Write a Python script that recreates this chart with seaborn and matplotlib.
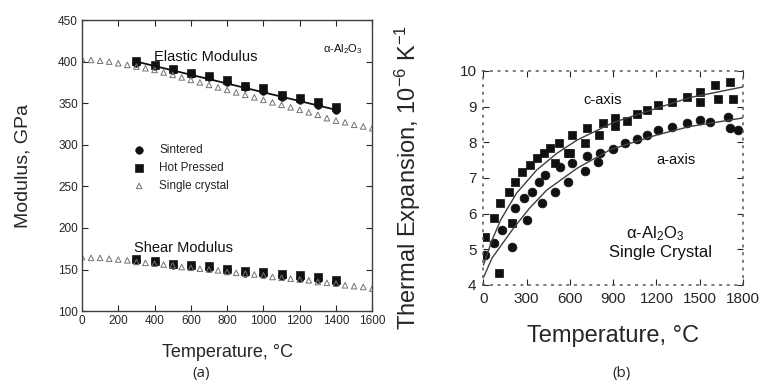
import matplotlib
matplotlib.use("Agg")
import matplotlib.pyplot as plt
import numpy as np
import pandas as pd
import seaborn as sns

# ---- (a) modulus vs temperature ----
poly_T = [300, 400, 500, 600, 700, 800, 900, 1000, 1100, 1200, 1300, 1400]
elastic_sintered = [398, 395, 390, 385, 381, 375, 369, 365, 358, 354, 348, 342]
elastic_hot = [401, 396, 391, 386, 383, 378, 371, 368, 360, 356, 352, 345]
shear_sintered = [161, 159, 156, 154, 152, 149, 146, 144, 142, 140, 138, 135]
shear_hot = [163, 160, 157, 155, 154, 151, 148, 147, 145, 143, 141, 137]
elastic_fit_T = [300, 1400]
elastic_fit = [400, 342]

crystal_T = list(range(0, 1601, 50))
elastic_crystal = [403, 402, 401, 400, 398, 396, 394, 392, 390, 387, 384, 381, 378,
                   375, 372, 369, 366, 363, 360, 357, 354, 351, 348, 345, 342, 339,
                   336, 332, 329, 327, 324, 322, 320]
shear_crystal = [165, 164, 164, 163, 162, 161, 159, 158, 157, 156, 155, 153, 152,
                 151, 150, 149, 147, 146, 145, 144, 143, 141, 140, 139, 138, 137,
                 135, 134, 133, 131, 130, 129, 127]

# ---- (b) thermal expansion ----
c_T = [14, 71, 106, 118, 175, 199, 221, 268, 325, 371, 417, 463, 498, 521, 590, 602,
       614, 705, 720, 800, 830, 913, 913, 997, 1066, 1135, 1211, 1308, 1412, 1502,
       1502, 1606, 1627, 1710, 1730]
c_axis = [5.35, 5.87, 4.33, 6.29, 6.61, 5.73, 6.89, 7.17, 7.36, 7.55, 7.69, 7.83, 7.41,
          7.97, 7.70, 7.69, 8.20, 7.97, 8.40, 8.20, 8.53, 8.44, 8.67, 8.60, 8.80, 8.90,
          9.04, 9.13, 9.27, 9.40, 9.13, 9.60, 9.20, 9.70, 9.20]
a_T = [14, 71, 129, 199, 221, 279, 302, 337, 383, 406, 429, 498, 533, 590, 614, 706,
       720, 797, 810, 900, 983, 1066, 1135, 1211, 1308, 1412, 1502, 1571, 1695, 1709,
       1765]
a_axis = [4.84, 5.17, 5.54, 5.07, 6.15, 6.43, 5.82, 6.61, 6.89, 6.29, 7.08, 6.61, 7.31,
          6.89, 7.41, 7.20, 7.60, 7.45, 7.70, 7.82, 7.97, 8.10, 8.20, 8.34, 8.43, 8.53,
          8.62, 8.58, 8.70, 8.40, 8.35]
c_fit_T = [0, 60, 120, 230, 370, 510, 650, 900, 1200, 1430, 1800]
c_fit = [4.55, 5.25, 5.82, 6.57, 7.22, 7.69, 8.06, 8.55, 8.95, 9.25, 9.55]
a_fit_T = [0, 60, 200, 320, 440, 650, 880, 1200, 1430, 1800]
a_fit = [4.20, 4.75, 5.54, 6.15, 6.66, 7.27, 7.79, 8.20, 8.44, 8.68]

sns.set_theme(style="ticks")
plt.rcParams["font.family"] = ["Liberation Sans", "DejaVu Sans"]
plt.rcParams["mathtext.default"] = "regular"
plt.rcParams["xtick.direction"] = "in"
plt.rcParams["ytick.direction"] = "in"

fig = plt.figure(figsize=(7.66, 3.85), dpi=100)
ink = "#111111"

# (a)
ax = fig.add_axes([0.107, 0.192, 0.379, 0.756])
sns.lineplot(x=elastic_fit_T, y=elastic_fit, ax=ax, color=ink, lw=1.3)
sns.scatterplot(x=poly_T + poly_T, y=elastic_sintered + shear_sintered, ax=ax,
                marker="o", s=30, color=ink, edgecolor=ink, label="Sintered")
sns.scatterplot(x=poly_T + poly_T, y=elastic_hot + shear_hot, ax=ax,
                marker="s", s=34, color=ink, edgecolor=ink, label="Hot Pressed")
sns.scatterplot(x=crystal_T + crystal_T, y=elastic_crystal + shear_crystal, ax=ax,
                marker="^", s=16, facecolor="none", edgecolor="0.45", linewidth=0.7,
                label="Single crystal")
ax.set_xlim(0, 1600)
ax.set_ylim(100, 450)
ax.set_xticks(range(0, 1601, 200))
ax.set_yticks(range(100, 451, 50))
ax.tick_params(labelsize=8.5, length=4, width=0.8, top=True, right=True, pad=3)
for s in ax.spines.values():
    s.set_color("0.25")
    s.set_linewidth(1.0)
ax.set_xlabel("Temperature, °C", fontsize=13, labelpad=12)
ax.set_ylabel("Modulus, GPa", fontsize=14, labelpad=19)
ax.text(395, 405, "Elastic Modulus", fontsize=10.5, color=ink, va="center")
ax.text(285, 176, "Shear Modulus", fontsize=10.5, color=ink, va="center")
ax.text(1330, 415, r"α-Al$_2$O$_3$", fontsize=8, color=ink, va="center")
ax.legend(loc="upper left", bbox_to_anchor=(0.14, 0.61), frameon=False, fontsize=8.5,
          handletextpad=1.2, labelspacing=0.5, handlelength=1.0)
fig.text(0.262, 0.02, "(a)", ha="center", fontsize=11, family=["Open Sans", "DejaVu Sans"])

# (b)
bx = fig.add_axes([0.631, 0.26, 0.339, 0.556])
sns.lineplot(x=c_fit_T, y=c_fit, ax=bx, color="0.25", lw=1.0)
sns.lineplot(x=a_fit_T, y=a_fit, ax=bx, color="0.25", lw=1.0)
sns.scatterplot(x=c_T, y=c_axis, ax=bx, marker="s", s=40, color=ink, edgecolor=ink)
sns.scatterplot(x=a_T, y=a_axis, ax=bx, marker="o", s=40, color=ink, edgecolor=ink)
bx.set_xlim(0, 1800)
bx.set_ylim(4, 10)
bx.set_xticks(range(0, 1801, 300))
bx.set_yticks(range(4, 11))
bx.tick_params(labelsize=11, length=4, width=0.8, top=True, right=True, pad=5)
for s in bx.spines.values():
    s.set_linestyle((0, (1, 4)))
    s.set_color("0.35")
    s.set_linewidth(1.1)
bx.set_xlabel("Temperature, °C", fontsize=17, labelpad=14)
bx.set_ylabel(r"Thermal Expansion, 10$^{-6}$ K$^{-1}$", fontsize=17, labelpad=26)
bx.text(830, 9.19, "c-axis", fontsize=10.5, color=ink, ha="center", va="center")
bx.text(1336, 7.5, "a-axis", fontsize=10.5, color=ink, ha="center", va="center")
bx.text(1190, 5.45, r"α-Al$_2$O$_3$", fontsize=12, color=ink, ha="center", va="center")
bx.text(1225, 4.9, "Single Crystal", fontsize=12, color=ink, ha="center", va="center")
fig.text(0.812, 0.02, "(b)", ha="center", fontsize=11, family=["Open Sans", "DejaVu Sans"])

fig.savefig("out.png", dpi=100)
